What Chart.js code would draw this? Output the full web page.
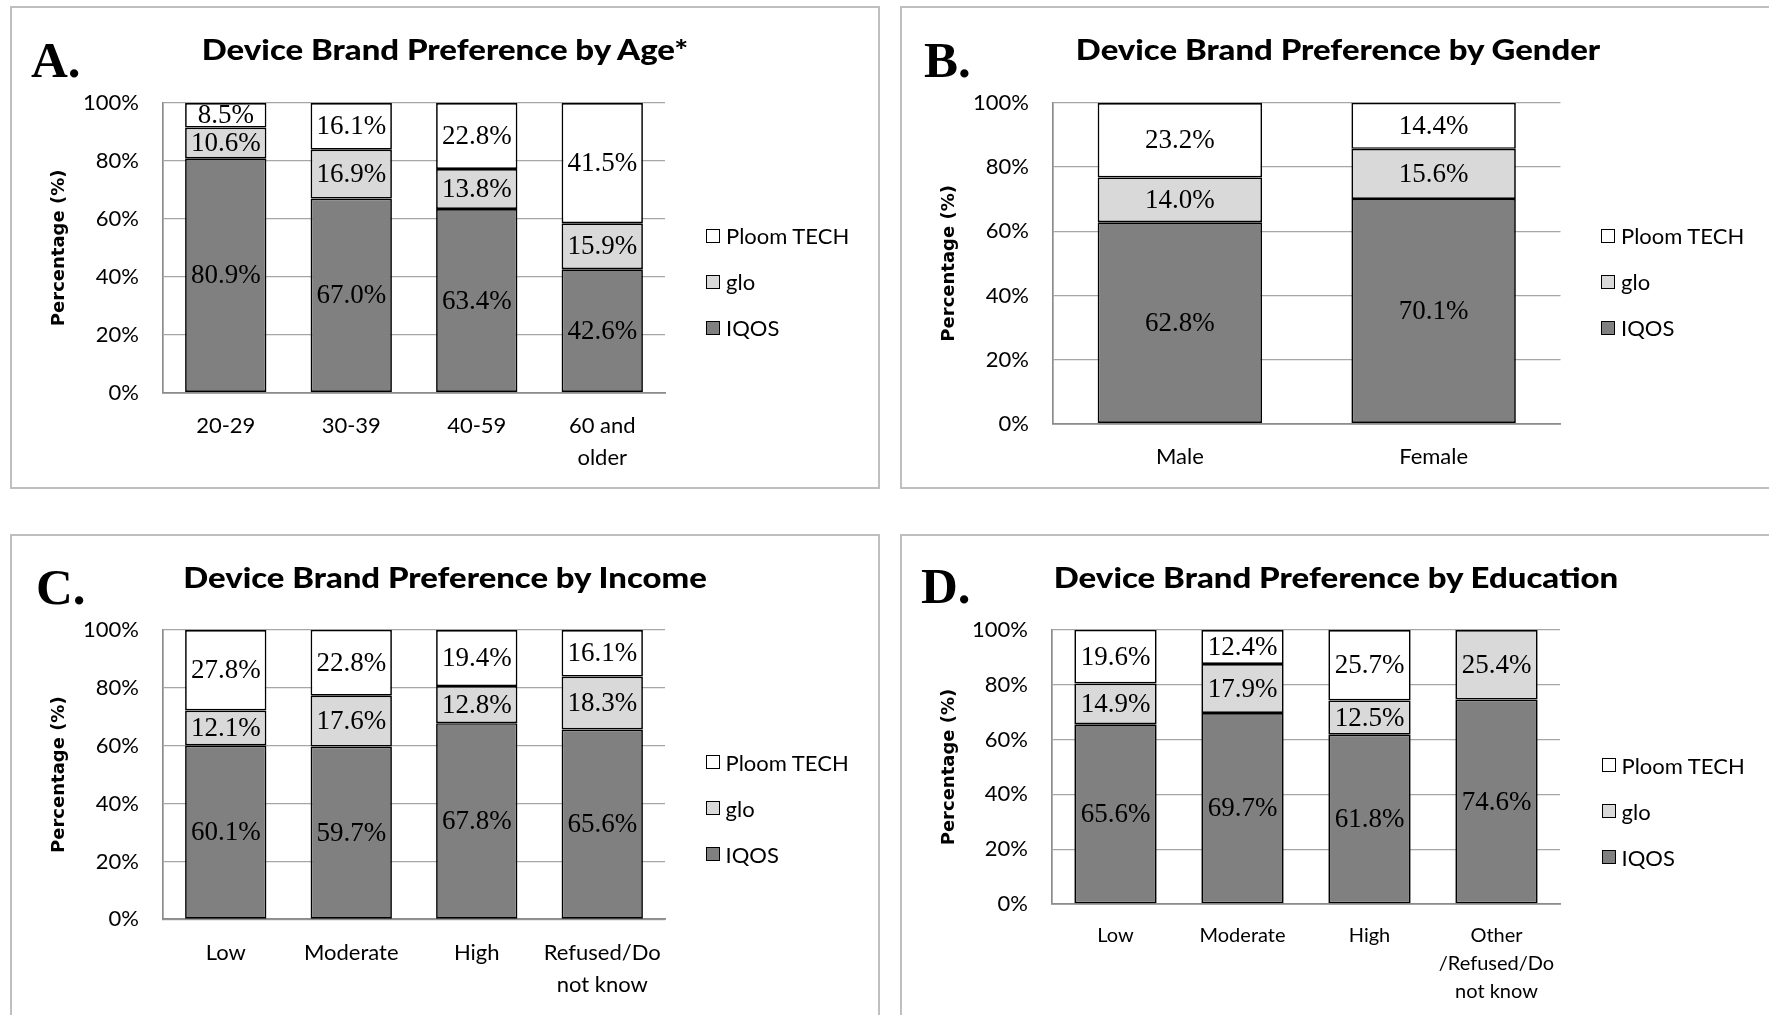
<!DOCTYPE html>
<html>
<head>
<meta charset="utf-8">
<script src="https://cdn.jsdelivr.net/npm/chart.js@4.4.1/dist/chart.umd.min.js"></script>
<style>
  body { margin: 0; width: 1769px; height: 1015px; overflow: hidden; background: #fff; position: relative; }
  .panel { position: absolute; border: 2px solid #bfbfbf; box-sizing: border-box; }
  .chart { position: absolute; }
  .letter { position: absolute; font-family: "Liberation Serif"; font-weight: bold; font-size: 51px; line-height: 1; white-space: nowrap; color: #000; }
  .title { position: absolute; font-family: Lato; font-weight: 900; font-size: 28px; line-height: 1.2; white-space: nowrap; color: #000; }
  .legend { position: absolute; font-family: Lato; font-size: 22px; color: #000; }
  .legend .item { position: absolute; left: 0; height: 30px; display: flex; align-items: center; white-space: nowrap; }
  .legend .box { width: 14px; height: 14px; border: 1.5px solid #000; box-sizing: border-box; margin-right: 6px; }
</style>
</head>
<body>
<script>
// Device brand preference – four stacked percentage bar charts

const seriesNames = ['IQOS', 'glo', 'Ploom TECH'];
const seriesColors = ['#808080', '#d9d9d9', '#ffffff'];
const yTickValues = [0, 20, 40, 60, 80, 100];

const ageLabels = ['20-29', '30-39', '40-59', ['60 and', 'older']];
const ageIqos = [80.9, 67.0, 63.4, 42.6];
const ageGlo = [10.6, 16.9, 13.8, 15.9];
const agePloom = [8.5, 16.1, 22.8, 41.5];

const genderLabels = ['Male', 'Female'];
const genderIqos = [62.8, 70.1];
const genderGlo = [14.0, 15.6];
const genderPloom = [23.2, 14.4];

const incomeLabels = ['Low', 'Moderate', 'High', ['Refused/Do', 'not know']];
const incomeIqos = [60.1, 59.7, 67.8, 65.6];
const incomeGlo = [12.1, 17.6, 12.8, 18.3];
const incomePloom = [27.8, 22.8, 19.4, 16.1];

const eduLabels = ['Low', 'Moderate', 'High', ['Other', '/Refused/Do', 'not know']];
const eduIqos = [65.6, 69.7, 61.8, 74.6];
const eduGlo = [14.9, 17.9, 12.5, 25.4];
const eduPloom = [19.6, 12.4, 25.7, 0];

// layout of the four panels (page pixels)
const panels = [
    { letter: 'A.', title: 'Device Brand Preference by Age*', labels: ageLabels, values: [ageIqos, ageGlo, agePloom],
      box: [10, 6, 870, 483], plot: [163, 103, 665, 392.7], letterPos: [31, 77.3], titlePos: [445, 61, 487],
      legend: [706, 235.5], tickFont: 22, tickLine: 32 },
    { letter: 'B.', title: 'Device Brand Preference by Gender', labels: genderLabels, values: [genderIqos, genderGlo, genderPloom],
      box: [900, 6, 880, 483], plot: [1053, 103, 1560.5, 423.7], letterPos: [924, 78], titlePos: [1338, 61, 525],
      legend: [1601, 235.7], tickFont: 22, tickLine: 32 },
    { letter: 'C.', title: 'Device Brand Preference by Income', labels: incomeLabels, values: [incomeIqos, incomeGlo, incomePloom],
      box: [10, 534, 870, 484], plot: [163, 630, 665, 919.3], letterPos: [36, 605], titlePos: [445, 589, 523],
      legend: [705.5, 762.3], tickFont: 22, tickLine: 32 },
    { letter: 'D.', title: 'Device Brand Preference by Education', labels: eduLabels, values: [eduIqos, eduGlo, eduPloom],
      box: [900, 534, 880, 484], plot: [1052, 630, 1560, 904], letterPos: [921, 604], titlePos: [1336, 589, 565],
      legend: [1601.5, 765], tickFont: 20, tickLine: 28 },
];

const segmentLabels = {
    id: 'segmentLabels',
    afterDatasetsDraw(chart) {
        const ctx = chart.ctx;
        ctx.save();
        ctx.font = '27px "Liberation Serif"';
        ctx.fillStyle = '#000';
        ctx.textAlign = 'center';
        ctx.textBaseline = 'middle';
        chart.data.datasets.forEach((ds, i) => {
            chart.getDatasetMeta(i).data.forEach((bar, j) => {
                const v = ds.data[j];
                if (!v) return;
                const p = bar.getProps(['x', 'y', 'base'], true);
                ctx.fillText(v.toFixed(1) + '%', p.x, (p.y + p.base) / 2 + 1);
            });
        });
        ctx.restore();
    }
};

function addEl(cls, text, style) {
    const el = document.createElement('div');
    el.className = cls;
    if (text) el.textContent = text;
    Object.assign(el.style, style);
    document.body.appendChild(el);
    return el;
}

panels.forEach(function (p) {
    const [bx, by, bw, bh] = p.box;
    const [pl, pt, pr, pb] = p.plot;

    addEl('panel', '', { left: bx + 'px', top: by + 'px', width: bw + 'px', height: bh + 'px' });

    const canvas = document.createElement('canvas');
    canvas.className = 'chart';
    canvas.width = bw;
    canvas.height = bh;
    Object.assign(canvas.style, { left: bx + 'px', top: by + 'px', width: bw + 'px', height: bh + 'px' });
    document.body.appendChild(canvas);

    const chart = new Chart(canvas.getContext('2d'), {
        type: 'bar',
        data: {
            labels: p.labels,
            datasets: seriesNames.map((name, i) => ({
                label: name,
                data: p.values[i],
                backgroundColor: seriesColors[i],
                borderColor: '#000',
                borderWidth: 1.7,
                borderSkipped: false,
                barPercentage: 0.648,
                categoryPercentage: 1,
            })),
        },
        options: {
            responsive: false,
            animation: false,
            devicePixelRatio: 1,
            layout: { padding: { left: 0, top: pt - by, right: bx + bw - pr, bottom: 0 } },
            plugins: { legend: { display: false }, tooltip: { enabled: false } },
            scales: {
                x: {
                    stacked: true,
                    grid: { display: false, drawTicks: false },
                    border: { display: true, color: '#8c8c8c', width: 1.7 },
                    ticks: {
                        color: '#000',
                        font: { family: 'Lato', size: p.tickFont, lineHeight: p.tickLine / p.tickFont },
                        padding: 17.5,
                        autoSkip: false,
                        maxRotation: 0,
                    },
                    afterFit(s) { s.height = by + bh - pb; },
                },
                y: {
                    stacked: true,
                    min: 0,
                    max: 100,
                    afterBuildTicks(s) { s.ticks = yTickValues.map(v => ({ value: v })); },
                    grid: { color: '#a6a6a6', lineWidth: 1.3, drawTicks: false },
                    border: { display: true, color: '#8c8c8c', width: 1.7 },
                    ticks: { color: '#000', font: { family: 'Lato', size: 22 }, padding: 24, callback: v => v + '%' },
                    title: {
                        display: true,
                        text: 'Percentage (%)',
                        color: '#000',
                        font: { family: 'DejaVu Sans', size: 18, weight: 'bold' },
                        padding: { top: 38.5, bottom: 0 },
                    },
                    afterFit(s) { s.width = pl - bx; },
                },
            },
        },
        plugins: [segmentLabels],
    });

    // panel letter and title
    addEl('letter', p.letter, { left: p.letterPos[0] + 'px', top: (p.letterPos[1] - 42.7) + 'px' });
    const t = addEl('title', p.title, { left: p.titlePos[0] + 'px', top: (p.titlePos[1] - 27.6) + 'px' });
    const sx = p.titlePos[2] / t.offsetWidth;
    t.style.transform = 'translateX(-50%) scaleX(' + sx.toFixed(3) + ')';

    // legend, top item first
    const lg = addEl('legend', '', { left: p.legend[0] + 'px', top: '0px' });
    chart.data.datasets.slice().reverse().forEach((ds, k) => {
        const item = document.createElement('div');
        item.className = 'item';
        item.style.top = (p.legend[1] + k * 46 - 15) + 'px';
        const box = document.createElement('span');
        box.className = 'box';
        box.style.background = ds.backgroundColor;
        const txt = document.createElement('span');
        txt.textContent = ds.label;
        item.appendChild(box);
        item.appendChild(txt);
        lg.appendChild(item);
    });
});
</script>
</body>
</html>
